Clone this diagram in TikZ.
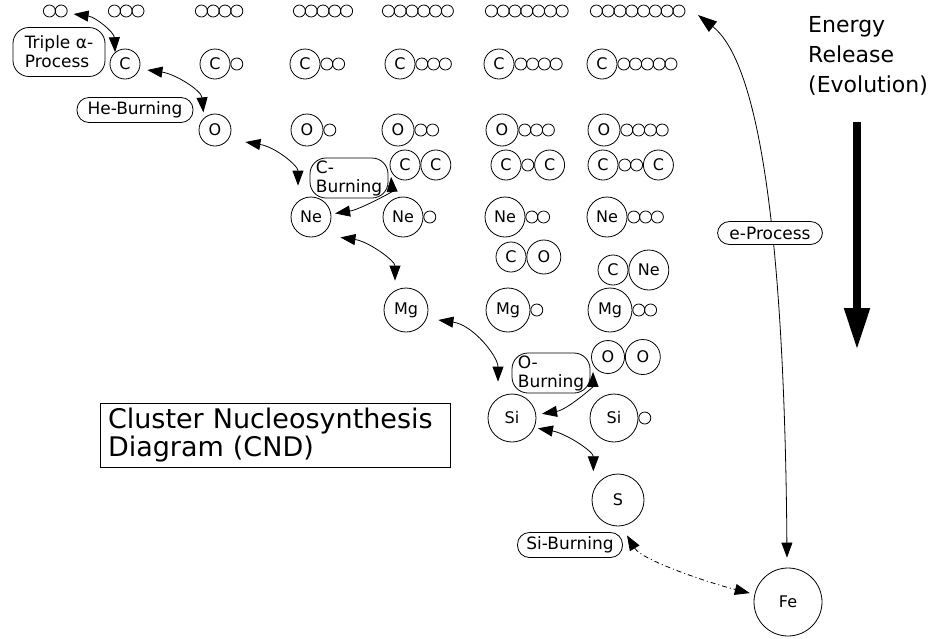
\documentclass[tikz,border=0pt]{standalone}
\usepackage{fontspec}
\setmainfont{DejaVu Sans}
\usetikzlibrary{arrows.meta, positioning, calc}
\tikzset{
  nuc/.style={circle,draw,line width=0.8pt,inner sep=0pt,font=\fontsize{16}{16}\selectfont},
  nucC/.style={nuc,minimum size=30pt},
  nucO/.style={nuc,minimum size=32pt},
  nucNe/.style={nuc,minimum size=40pt},
  nucMg/.style={nuc,minimum size=44pt},
  nucSi/.style={nuc,minimum size=48pt},
  acirc/.style={circle,draw,line width=0.8pt,inner sep=0pt,minimum size=12pt},
  process/.style={draw,line width=0.8pt,rounded corners=12pt,inner sep=1pt,font=\fontsize{17}{19}\selectfont},
  process2/.style={process,align=left,rounded corners=16pt,minimum width=78pt,minimum height=40pt},
  react/.style={line width=0.8pt,{Triangle[length=15pt,width=11pt]}-{Triangle[length=15pt,width=11pt]}},
  reactd/.style={react,dash pattern=on 5pt off 3pt on 1pt off 3pt},
  reacte/.style={line width=0.8pt,{Triangle[length=15pt,width=11pt]}-{Triangle[length=19pt,width=13pt]}},
}
\pgfdeclarelayer{back}
\pgfsetlayers{back,main}
\newcommand{\alphas}[2]{%
  \node[acirc,right=0pt of #1] (#1-1) {};
  \ifnum#2>1
    \foreach \k [remember=\k as \p (initially 1)] in {2,...,#2}
      \node[acirc,right=-1pt of #1-\p] (#1-\k) {};
  \fi
}

\begin{document}
\begin{tikzpicture}[x=1pt,y=-1pt]
	\useasboundingbox (0,0) rectangle (932,638);
	\foreach \n/\x in {2/43,3/108,4/195,5/293,6/382,7/485,8/590}{
	  \coordinate (r\n) at (\x,11);
	  \alphas{r\n}{\n}
	}
	\node[nucC] (C1) at (125,64) {C};
	\node[nucC] (C2) at (215,64) {C}; \alphas{C2}{1}
	\node[nucC] (C3) at (305,64) {C}; \alphas{C3}{2}
	\node[nucC] (C4) at (400,64) {C}; \alphas{C4}{3}
	\node[nucC] (C5) at (499,64) {C}; \alphas{C5}{4}
	\node[nucC] (C6) at (602,64) {C}; \alphas{C6}{5}
	\node[nucO] (O1) at (215,130) {O};
	\node[nucO] (O2) at (307,130) {O}; \alphas{O2}{1}
	\node[nucO] (O3) at (398,130) {O}; \alphas{O3}{2}
	\node[nucO] (O4) at (502,130) {O}; \alphas{O4}{3}
	\node[nucO] (O5) at (604,130) {O}; \alphas{O5}{4}
	\node[nucC] (CC1) at (405,165) {C};
	\node[nucC,right=0pt of CC1] (CC1b) {C};
	\node[nucC] (CC2) at (506,165) {C}; \alphas{CC2}{1}
	\node[nucC,right=0pt of CC2-1] (CC2b) {C};
	\node[nucC] (CC3) at (603,165) {C}; \alphas{CC3}{2}
	\node[nucC,right=0pt of CC3-2] (CC3b) {C};
	\node[nucNe] (Ne1) at (311,217) {Ne};
	\node[nucNe] (Ne2) at (403,217) {Ne}; \alphas{Ne2}{1}
	\node[nucNe] (Ne3) at (505,217) {Ne}; \alphas{Ne3}{2}
	\node[nucNe] (Ne4) at (607,217) {Ne}; \alphas{Ne4}{3}
	\node[nucC] (CO1) at (511,257) {C};
	\node[nuc,minimum size=34pt,right=0pt of CO1] (CO1b) {O};
	\node[nucC] (CNe1) at (613,270) {C};
	\node[nucNe,right=0pt of CNe1] (CNe1b) {Ne};
	\node[nucMg] (Mg1) at (406,310) {Mg};
	\node[nucMg] (Mg2) at (508,310) {Mg}; \alphas{Mg2}{1}
	\node[nucMg] (Mg3) at (610,310) {Mg}; \alphas{Mg3}{2}
	\node[nuc,minimum size=33pt] (OO1) at (608,357) {O};
	\node[nuc,minimum size=35pt,right=0pt of OO1] (OO1b) {O};
	\node[nucSi] (Si1) at (512,418) {Si};
	\node[nucSi] (Si2) at (614,418) {Si}; \alphas{Si2}{1}
	\node[nuc,minimum size=52pt] (S) at (618,500) {S};
	\node[nuc,minimum size=68pt] (Fe) at (788,602) {Fe};
	\node[process,minimum width=92pt,minimum height=49pt,rounded corners=16pt,align=left] (triple) at (59,52) {Triple α-\\Process};
	\node[process,minimum width=116pt,minimum height=25pt] (heburn) at (135,110) {He-Burning};
	\node[process2] (cburn) at (349,178) {C-\\Burning};
	\node[process2] (oburn) at (551,373) {O-\\Burning};
	\node[process,minimum width=105pt,minimum height=25pt] (siburn) at (570,545) {Si-Burning};
	\node[process,minimum width=105pt,minimum height=23pt,fill=white] (eproc) at (770,233) {e-Process};
	\node[draw,line width=0.8pt,align=left,inner xsep=8pt,text width=334pt,minimum height=64pt,font=\fontsize{27}{28}\selectfont] (title) at (275,435) {Cluster Nucleosynthesis\\Diagram (CND)};
	\node[anchor=west,inner sep=0pt,align=left,font=\fontsize{22}{30}\selectfont] (energy) at (808,56) {Energy\\Release\\(Evolution)};
	\coordinate (eptop) at (698,15);
	\coordinate (evtop) at (857,122);
	\coordinate (evbot) at (857,350);
	\begin{pgfonlayer}{back}
	\draw[react] ([shift={(6,3)}]r2-2.east) .. controls +(22,3) and +(-1,-20) .. (C1.130);
	\draw[react] ([shift={(7,6)}]C1.east) .. controls +(28,4) and +(-2,-22) .. ([shift={(0,-6)}]O1.north west);
	\draw[react] ([shift={(14,12)}]O1.east) .. controls +(30,5) and +(0,-20) .. ([shift={(-13,-11)}]Ne1.north);
	\draw[react] ([xshift=4pt]Ne1.10) .. controls +(25,-4) and +(1,15) .. ([shift={(-3,1)}]CC1.south west);
	\draw[react] ([shift={(15,6)}]Ne1.south east) .. controls +(28,4) and +(0,-20) .. ([shift={(-11,-7)}]Mg1.north);
	\draw[react] ([shift={(10,10)}]Mg1.east) .. controls +(35,5) and +(0,-25) .. ([shift={(-14,-12)}]Si1.north);
	\draw[react] ([xshift=6pt]Si1.10) .. controls +(25,-4) and +(0,15) .. ([shift={(-3,3)}]OO1.south west);
	\draw[react] ([shift={(3,2)}]Si1.-20) .. controls +(28,5) and +(0,-20) .. ([shift={(-6,-10)}]S.north west);
	\draw[reactd] ([shift={(9,9)}]S.south) .. controls +(15,25) and +(-40,-10) .. ([xshift=-5pt]Fe.165);
	\draw[reacte] ([shift={(-1,-10)}]Fe.north) .. controls +(-2,-258) and +(70,55) .. (eptop);
	\end{pgfonlayer}
	\draw[line width=8pt,-{Triangle[length=42pt,width=24pt]}] (evtop) -- (evbot);
\end{tikzpicture}
\end{document}
